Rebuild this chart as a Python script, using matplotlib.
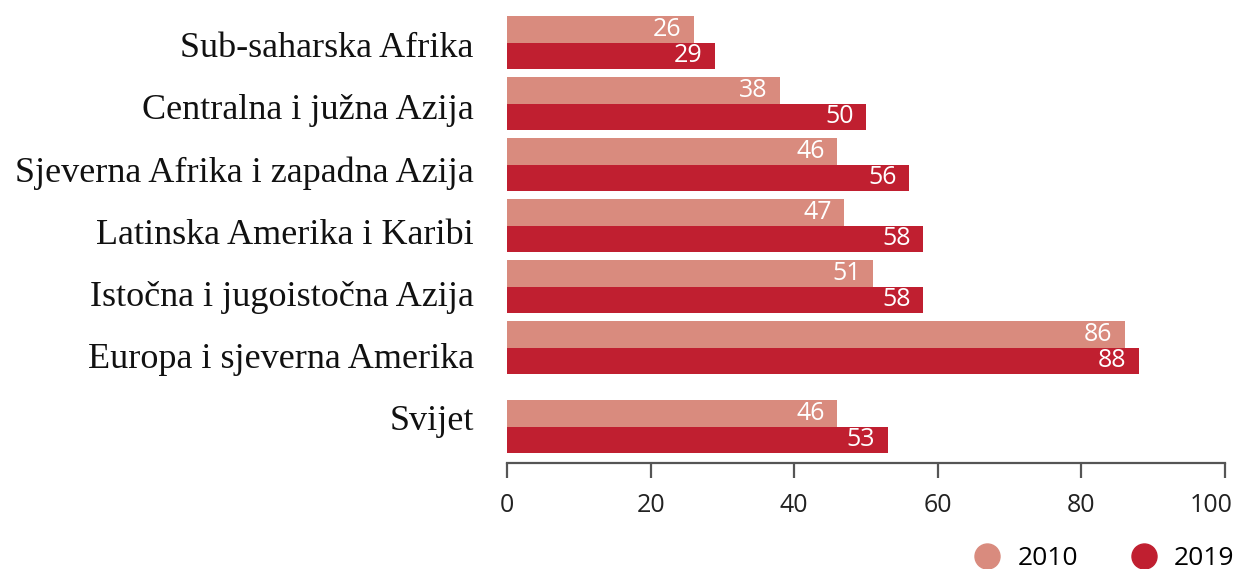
import numpy as np
import matplotlib
matplotlib.use("Agg")
import matplotlib.pyplot as plt
from matplotlib.lines import Line2D

regions = ["Sub-saharska Afrika", "Centralna i južna Azija", "Sjeverna Afrika i zapadna Azija",
           "Latinska Amerika i Karibi", "Istočna i jugoistočna Azija", "Europa i sjeverna Amerika",
           "Svijet"]
vals_2010 = [26, 38, 46, 47, 51, 86, 46]
vals_2019 = [29, 50, 56, 58, 58, 88, 53]
years = ["2010", "2019"]
colors = ["#D98B7E", "#C01F30"]
xticks = [0, 20, 40, 60, 80, 100]

# group centres (extra gap before "Svijet")
ypos = np.array([0, 1, 2, 3, 4, 5, 6.295])
h = 0.434
label_pos = np.arange(len(regions)) * 1.02 + 0.03

fig = plt.figure(figsize=(12.35, 5.69), dpi=100)
ax = fig.add_axes([0.4105, 0.1863, 0.5815, 0.796])

b1 = ax.barh(ypos - h / 2, vals_2010, height=h, color=colors[0])
b2 = ax.barh(ypos + h / 2, vals_2019, height=h, color=colors[1])

for bars, vals in [(b1, vals_2010), (b2, vals_2019)]:
    for bar, v in zip(bars, vals):
        ax.annotate(str(v), (v, bar.get_y() + bar.get_height() / 2),
                    xytext=(-9, 0), textcoords="offset points",
                    ha="right", va="center", color="white",
                    fontsize=18, family="Open Sans")

ax.set_xlim(0, 100)
ax.set_ylim(6.893, -0.533)
ax.set_xticks(xticks)
# last label is drawn separately, shifted left of its tick like in the source
ax.set_xticklabels([str(t) for t in xticks[:-1]] + [""], family="Open Sans", fontsize=18, color="#222222")
ax.tick_params(axis="x", length=10.5, width=1.6, color="#555555", pad=11)
ax.annotate(str(xticks[-1]), (xticks[-1], 0), xycoords=("data", "axes fraction"),
            xytext=(-10, -21.5), textcoords="offset points", ha="center", va="top",
            family="Open Sans", fontsize=18, color="#222222", annotation_clip=False)

ax.set_yticks(label_pos)
ax.set_yticklabels(regions, family="Liberation Serif", fontsize=26, color="#111111")
ax.tick_params(axis="y", length=0, pad=24)

for s in ["top", "right", "left"]:
    ax.spines[s].set_visible(False)
ax.spines["bottom"].set_color("#555555")
ax.spines["bottom"].set_linewidth(1.6)

handles = [Line2D([], [], marker="o", linestyle="none", markersize=18,
                  markerfacecolor=c, markeredgecolor=c) for c in colors]
fig.legend(handles, years, loc="lower right", bbox_to_anchor=(1.019, -0.045), ncol=2,
           frameon=False, handletextpad=0.15, columnspacing=1.5,
           prop={"family": "Open Sans", "size": 19})

fig.savefig("out.png", dpi=100)
